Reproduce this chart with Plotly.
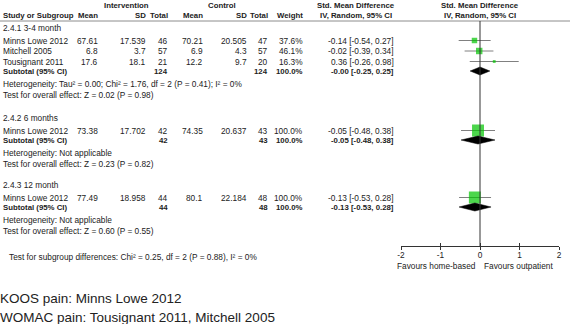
import plotly.graph_objects as go

# ---------------- data ----------------
groups = ["2.4.1 3-4 month", "2.4.2 6 months", "2.4.3 12 month"]
study_group = [0, 0, 0, 1, 2]
studies = ["Minns Lowe 2012", "Mitchell 2005", "Tousignant 2011", "Minns Lowe 2012", "Minns Lowe 2012"]
int_mean = [67.61, 6.8, 17.6, 73.38, 77.49]
int_sd = [17.539, 3.7, 18.1, 17.702, 18.958]
int_n = [46, 57, 21, 42, 44]
ctl_mean = [70.21, 6.9, 12.2, 74.35, 80.1]
ctl_sd = [20.505, 4.3, 9.7, 20.637, 22.184]
ctl_n = [47, 57, 20, 43, 48]
weight = [37.6, 46.1, 16.3, 100.0, 100.0]
smd = [-0.14, -0.02, 0.36, -0.05, -0.13]
smd_lo = [-0.54, -0.39, -0.26, -0.48, -0.53]
smd_hi = [0.27, 0.34, 0.98, 0.38, 0.28]

sub_int_n = [124, 42, 44]
sub_ctl_n = [124, 43, 48]
sub_weight = [100.0, 100.0, 100.0]
sub_smd = [-0.0, -0.05, -0.13]
sub_lo = [-0.25, -0.48, -0.53]
sub_hi = [0.25, 0.38, 0.28]
heterogeneity = ["Heterogeneity: Tau² = 0.00; Chi² = 1.76, df = 2 (P = 0.41); I² = 0%",
                 "Heterogeneity: Not applicable",
                 "Heterogeneity: Not applicable"]
overall = ["Test for overall effect: Z = 0.02 (P = 0.98)",
           "Test for overall effect: Z = 0.23 (P = 0.82)",
           "Test for overall effect: Z = 0.60 (P = 0.55)"]
subgroup_test = "Test for subgroup differences: Chi² = 0.25, df = 2 (P = 0.88), I² = 0%"
x_ticks = [-2, -1, 0, 1, 2]
favours = ["Favours home-based", "Favours outpatient"]
footnotes = ["KOOS pain: Minns Lowe 2012", "WOMAC pain: Tousignant 2011, Mitchell 2005"]

# ---------------- layout constants (pixels) ----------------
W, H = 570, 324
FONT = "Liberation Sans, Arial, sans-serif"
TXT = "#222222"
FS = 8.3
FSB = 7.8
GREEN = "#00c400"
group_start = [28, 118, 185]
X_STUDY = 3
X_IMEAN, X_ISD, X_IN = 98, 146, 168
X_CMEAN, X_CSD, X_CN = 203, 247, 268
X_W = 303
X_CI = 394
X_CI_C = 356
AX_Y = 246
HEAD_LINE = 21
FX0, FX1 = 401, 559  # forest axis pixel span for -2..2

fig = go.Figure()
ann = []


def t(x, y, s, anchor="left", bold=False, size=None, color=TXT):
    if size is None:
        size = FSB if bold else FS
    ann.append(dict(x=x, y=y, xref="x", yref="y", text=("<b>%s</b>" % s) if bold else s,
                    showarrow=False, xanchor=anchor, yanchor="middle", borderpad=0, borderwidth=0,
                    font=dict(family=FONT, size=size, color=color)))


def fmt(v):
    return str(v)


# headers
t(126, 5, "Intervention", "center", True)
t(222, 5, "Control", "center", True)
t(X_CI_C, 5, "Std. Mean Difference", "center", True)
t((FX0 + FX1) / 2, 5, "Std. Mean Difference", "center", True)
t(X_STUDY, 15, "Study or Subgroup", "left", True)
t(X_IMEAN, 15, "Mean", "right", True)
t(X_ISD, 15, "SD", "right", True)
t(X_IN, 15, "Total", "right", True)
t(X_CMEAN, 15, "Mean", "right", True)
t(X_CSD, 15, "SD", "right", True)
t(X_CN, 15, "Total", "right", True)
t(X_W, 15, "Weight", "right", True)
t(X_CI_C, 15, "IV, Random, 95% CI", "center", True)
t((FX0 + FX1) / 2, 15, "IV, Random, 95% CI", "center", True)

study_y = []
sub_y = []
for g, label in enumerate(groups):
    y = group_start[g]
    t(X_STUDY, y, label, "left", False)
    y += 12.5
    for i, sg in enumerate(study_group):
        if sg != g:
            continue
        study_y.append(y)
        t(X_STUDY, y, studies[i])
        t(X_IMEAN, y, fmt(int_mean[i]), "right")
        t(X_ISD, y, fmt(int_sd[i]), "right")
        t(X_IN, y, fmt(int_n[i]), "right")
        t(X_CMEAN, y, fmt(ctl_mean[i]), "right")
        t(X_CSD, y, fmt(ctl_sd[i]), "right")
        t(X_CN, y, fmt(ctl_n[i]), "right")
        t(X_W, y, "%.1f%%" % weight[i], "right")
        t(X_CI, y, "%.2f [%.2f, %.2f]" % (smd[i], smd_lo[i], smd_hi[i]), "right")
        y += 10.5
    y -= 1
    sub_y.append(y)
    t(X_STUDY, y, "Subtotal (95% CI)", "left", True)
    t(X_IN, y, fmt(sub_int_n[g]), "right", True)
    t(X_CN, y, fmt(sub_ctl_n[g]), "right", True)
    t(X_W, y, "%.1f%%" % sub_weight[g], "right", True)
    t(X_CI, y, "%.2f [%.2f, %.2f]" % (sub_smd[g], sub_lo[g], sub_hi[g]), "right", True)
    y += 12.5
    t(X_STUDY, y, heterogeneity[g])
    y += 11
    t(X_STUDY, y, overall[g])

t(9, 257, subgroup_test)
t(0, 298, footnotes[0], "left", False, 13.5, "#222222")
t(0, 317, footnotes[1], "left", False, 13.5, "#222222")

# forest: CI lines
for i in range(len(studies)):
    fig.add_trace(go.Scatter(x=[smd_lo[i], smd_hi[i]], y=[study_y[i], study_y[i]], mode="lines",
                             line=dict(color="#808080", width=1), xaxis="x2", yaxis="y",
                             hoverinfo="skip", showlegend=False))
# squares
fig.add_trace(go.Scatter(x=smd, y=study_y, mode="markers", xaxis="x2", yaxis="y",
                         marker=dict(symbol="square", color=GREEN,
                                     size=[12 * (w / 100) ** 0.8 for w in weight],
                                     line=dict(width=0)),
                         hoverinfo="skip", showlegend=False))
# diamonds
for g in range(len(groups)):
    yc = sub_y[g]
    fig.add_trace(go.Scatter(x=[sub_lo[g], sub_smd[g], sub_hi[g], sub_smd[g], sub_lo[g]],
                             y=[yc, yc - 4, yc, yc + 4, yc], mode="lines", fill="toself",
                             fillcolor="black", line=dict(color="black", width=0.5),
                             xaxis="x2", yaxis="y", showlegend=False, hoverinfo="skip"))

# favours labels
for k, (xv, anc) in enumerate([(-0.08, "right"), (0.08, "left")]):
    ann.append(dict(x=xv, y=266, xref="x2", yref="y", text=favours[k], showarrow=False,
                    xanchor=anc, yanchor="middle", borderpad=0,
                    font=dict(family=FONT, size=FS, color=TXT)))

shapes = [
    dict(type="line", xref="x", yref="y", x0=0, x1=W, y0=HEAD_LINE, y1=HEAD_LINE,
         line=dict(color="#8c8c8c", width=1)),
    dict(type="line", xref="x2", yref="y", x0=0, x1=0, y0=HEAD_LINE, y1=AX_Y,
         line=dict(color="#333333", width=1)),
]

pos = 1 - AX_Y / H
fig.update_layout(
    width=W, height=H, margin=dict(l=0, r=0, t=0, b=0, pad=0),
    paper_bgcolor="white", plot_bgcolor="rgba(0,0,0,0)",
    xaxis=dict(range=[0, W], domain=[0, 1], visible=False, fixedrange=True, automargin=False),
    yaxis=dict(range=[H, 0], domain=[0, 1], visible=False, fixedrange=True, automargin=False),
    xaxis2=dict(range=[-2, 2], domain=[FX0 / W, FX1 / W], anchor="free", position=pos,
                showline=True, linecolor="#333333", linewidth=1, showgrid=False, zeroline=False,
                tickmode="array", tickvals=x_ticks, ticktext=[str(v) for v in x_ticks],
                ticks="outside", ticklen=3, tickcolor="#333333", automargin=False,
                ticklabelstandoff=-2, fixedrange=True,
                tickfont=dict(family=FONT, size=FS, color=TXT)),
    xaxis3=dict(range=[-2, 2], domain=[FX0 / W, FX1 / W], anchor="free", position=pos,
                overlaying="x2", showline=False, showgrid=False, zeroline=False,
                tickmode="array", tickvals=x_ticks, showticklabels=False, automargin=False,
                ticks="inside", ticklen=3, tickcolor="#333333", fixedrange=True),
    annotations=ann, shapes=shapes, showlegend=False,
)
fig.add_trace(go.Scatter(x=[None], y=[None], xaxis="x3", yaxis="y", showlegend=False))
fig.write_html("out.html", config={"displayModeBar": False},
               post_script="document.body.style.margin='0';document.body.style.overflow='hidden';")
